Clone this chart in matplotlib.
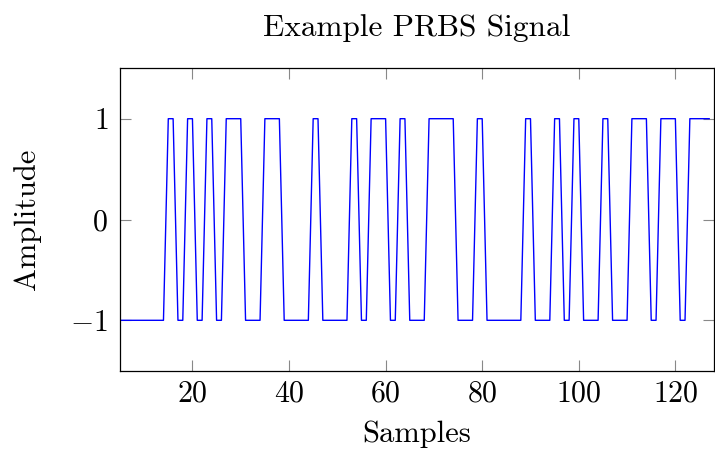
import numpy as np
import matplotlib
matplotlib.use("Agg")
import matplotlib.pyplot as plt

# PRBS samples (sample 5 .. 127)
first_sample = 5
amplitude = [
    -1, -1, -1, -1, -1, -1, -1, -1, -1, -1,   # 5-14
    1, 1, -1, -1, 1, 1, -1, -1, 1, 1,         # 15-24
    -1, -1, 1, 1, 1, 1, -1, -1, -1, -1,       # 25-34
    1, 1, 1, 1, -1, -1, -1, -1, -1, -1,       # 35-44
    1, 1, -1, -1, -1, -1, -1, -1, 1, 1,       # 45-54
    -1, -1, 1, 1, 1, 1, -1, -1, 1, 1,         # 55-64
    -1, -1, -1, -1, 1, 1, 1, 1, 1, 1,         # 65-74
    -1, -1, -1, -1, 1, 1, -1, -1, -1, -1,     # 75-84
    -1, -1, -1, -1, 1, 1, -1, -1, -1, -1,     # 85-94
    1, 1, -1, -1, 1, 1, -1, -1, -1, -1,       # 95-104
    1, 1, -1, -1, -1, -1, 1, 1, 1, 1,         # 105-114
    -1, -1, 1, 1, 1, 1, -1, -1, 1, 1,         # 115-124
    1, 1, 1,                                  # 125-127
]
samples = np.arange(first_sample, first_sample + len(amplitude))

x_ticks = [20, 40, 60, 80, 100, 120]
y_ticks = [-1, 0, 1]

plt.rcParams["font.family"] = "serif"
plt.rcParams["font.serif"] = ["cmr10"]
plt.rcParams["mathtext.fontset"] = "cm"
plt.rcParams["axes.formatter.use_mathtext"] = True
plt.rcParams["font.size"] = 22

fig = plt.figure(figsize=(7.15, 4.5), dpi=100)
ax = fig.add_axes([120 / 715, 79.3 / 450, 594 / 715, 302.4 / 450])

ax.plot(samples, amplitude, color="blue", linewidth=1.0)

ax.set_xlim(first_sample, 128)
ax.set_ylim(-1.5, 1.5)
ax.set_xticks(x_ticks)
ax.set_yticks(y_ticks)
ax.tick_params(direction="in", length=8, width=0.8, color="#888888",
               top=True, right=True, labelsize=21.5)
ax.tick_params(axis="x", pad=6.5)
ax.tick_params(axis="y", pad=8.5)
for s in ax.spines.values():
    s.set_linewidth(0.9)

ax.set_title("Example PRBS Signal", fontsize=22.5, pad=23)
ax.set_xlabel("Samples", labelpad=9.5)
ax.set_ylabel("Amplitude", labelpad=21)

fig.savefig("out.png", dpi=100)
